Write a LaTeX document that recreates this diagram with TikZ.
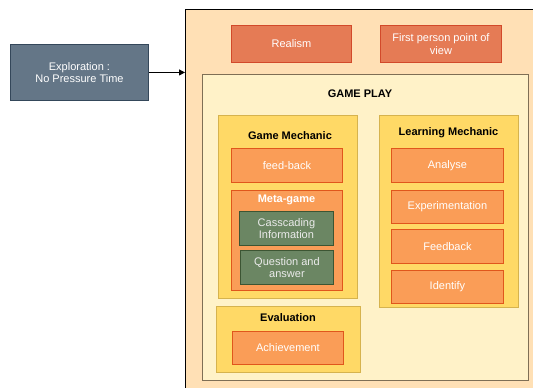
\documentclass[tikz,border=0pt]{standalone}
\usepackage{fontspec}
\setmainfont{Liberation Sans}
\usetikzlibrary{arrows.meta}
\definecolor{peach}{HTML}{FFE0B5}
\definecolor{peachline}{HTML}{000000}
\definecolor{redfill}{HTML}{E57B55}
\definecolor{redline}{HTML}{D2492A}
\definecolor{gpfill}{HTML}{FFF2C8}
\definecolor{gpline}{HTML}{7F6F55}
\definecolor{yfill}{HTML}{FFD966}
\definecolor{yline}{HTML}{D6B34E}
\definecolor{ofill}{HTML}{FA9D57}
\definecolor{oline}{HTML}{E0561C}
\definecolor{gfill}{HTML}{6B8663}
\definecolor{gline}{HTML}{3C5533}
\definecolor{bfill}{HTML}{647687}
\definecolor{bline}{HTML}{34475A}
\tikzset{
  base/.style={anchor=north west, inner sep=1pt, align=center, line width=0.9pt, font=\fontsize{11}{12.5}\selectfont},
  redbox/.style={base, fill=redfill, draw=redline, text=white},
  obox/.style={base, fill=ofill, draw=oline, text=white},
  gbox/.style={base, fill=gfill, draw=gline, text=white!92!black},
  bbox/.style={base, fill=bfill, draw=bline, text=white},
  ybox/.style={base, fill=yfill, draw=yline},
  title/.style={font=\fontsize{11}{12.5}\selectfont\bfseries, inner sep=0pt},
  wtitle/.style={title, text=white},
}
\begin{document}
\begin{tikzpicture}[x=1pt,y=-1pt]
\useasboundingbox (0,0) rectangle (533,388);
% outer
\node[base, fill=peach, draw=peachline, minimum width=352, minimum height=385] (outer) at (185,9) {};
% exploration
\node[bbox, minimum width=138, minimum height=56] (explo) at (10,44) {Exploration :\\No Pressure Time};
\draw[-{Triangle[length=6pt,width=6pt]}, line width=0.8pt] (explo.east) -- (explo.east -| outer.west);
% top boxes
\node[redbox, minimum width=120, minimum height=37] (realism) at (231,25) {Realism};
\node[redbox, minimum width=121, minimum height=37] (fpp) at (380,25) {First person point of\\view};
% game play
\node[base, fill=gpfill, draw=gpline, minimum width=326, minimum height=306] (gp) at (202,74) {};
\node[title] (gptitle) at (360,94) {GAME PLAY};
% game mechanic
\node[ybox, minimum width=139, minimum height=183] (gm) at (218,115) {};
\node[title] (gmtitle) at (290,136) {Game Mechanic};
\node[obox, minimum width=111, minimum height=34] (fb) at (231,148) {feed-back};
\node[obox, minimum width=111, minimum height=100] (meta) at (231,190) {};
\node[wtitle] (metatitle) at (286.5,200) {Meta-game};
\node[gbox, minimum width=94, minimum height=34] (cas) at (239,211) {Casscading\\Information};
\node[gbox, minimum width=93, minimum height=34] (qa) at (240,250) {Question and\\answer};
% learning mechanic
\node[ybox, minimum width=139, minimum height=192] (lm) at (379,115) {};
\node[title] (lmtitle) at (448.5,133) {Learning Mechanic};
\node[obox, minimum width=112, minimum height=34] (an) at (391,148) {Analyse};
\node[obox, minimum width=112, minimum height=33] (ex) at (391,190) {Experimentation};
\node[obox, minimum width=112, minimum height=34] (fd) at (391,229) {Feedback};
\node[obox, minimum width=112, minimum height=33] (id) at (391,270) {Identify};
% evaluation
\node[ybox, minimum width=144, minimum height=66] (ev) at (216,306) {};
\node[title] (evtitle) at (288,318) {Evaluation};
\node[obox, minimum width=111, minimum height=33] (ach) at (232,331) {Achievement};
\end{tikzpicture}
\end{document}
